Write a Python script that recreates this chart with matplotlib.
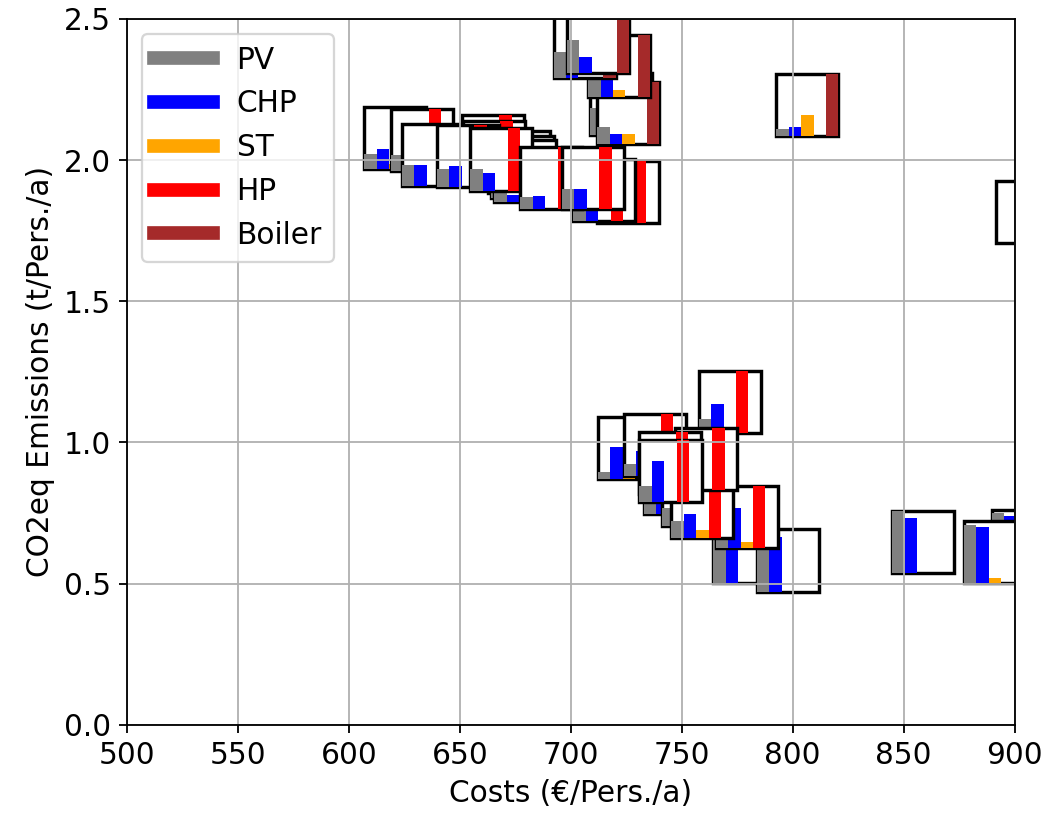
import matplotlib.pyplot as plt
from matplotlib.patches import Rectangle
from matplotlib.lines import Line2D

# pareto solutions: costs in €/Pers./a, emissions in t/Pers./a
costs = [708.8, 711.9, 707.8, 692.2, 698.3,
         606.9, 619.1, 623.9, 651.0, 651.5, 639.7, 662.8, 664.2, 665.5, 654.7,
         711.6, 701.1, 677.2, 696.0, 792.6, 891.4,
         712.1, 723.8, 732.8, 741.1, 764.2, 783.8, 765.3, 745.3, 757.6, 747.0,
         730.6, 730.9, 844.8, 889.6, 877.1]
emissions = [2.088, 2.056, 2.224, 2.289, 2.307,
             1.967, 1.962, 1.909, 1.939, 1.919, 1.905, 1.882, 1.865, 1.850, 1.892,
             1.776, 1.785, 1.827, 1.828, 2.085, 1.706,
             0.869, 0.881, 0.745, 0.703, 0.502, 0.472, 0.625, 0.662, 1.034, 0.833,
             0.818, 0.790, 0.537, 0.540, 0.502]

# installed capacities, relative to the largest one of each technology
pv = [0.43, 0.27, 0.27, 0.43, 0.54,
      0.25, 0.25, 0.33, 0.3, 0.3, 0.29, 0.15, 0.15, 0.15, 0.35,
      0.1, 0.17, 0.19, 0.31, 0.12, 0.0,
      0.12, 0.19, 0.3, 0.3, 0.9, 0.8, 0.3, 0.27, 0.22, 0.3,
      0.3, 0.26, 1.0, 0.95, 0.94]
chp = [0.3, 0.16, 0.27, 0.24, 0.27,
       0.33, 0.3, 0.34, 0.3, 0.3, 0.34, 0.12, 0.12, 0.12, 0.29,
       0.05, 0.15, 0.2, 0.31, 0.14, 0.0,
       0.52, 0.4, 0.3, 0.3, 0.9, 0.88, 0.65, 0.38, 0.46, 0.4,
       0.6, 0.65, 0.89, 0.9, 0.9]
st = [0.1, 0.16, 0.11, 0.0, 0.0,
      0.08, 0.1, 0.0, 0.0, 0.0, 0.0, 0.0, 0.0, 0.0, 0.0,
      0.05, 0.0, 0.0, 0.0, 0.34, 0.0,
      0.16, 0.0, 0.0, 0.0, 0.0, 0.0, 0.11, 0.12, 0.0, 0.0,
      0.0, 0.0, 0.0, 0.0, 0.08]
hp = [0.0, 0.0, 0.0, 0.0, 0.0,
      0.0, 1.0, 0.0, 1.0, 1.0, 1.0, 0.0, 0.0, 0.0, 1.0,
      1.0, 1.0, 1.0, 1.0, 0.0, 0.0,
      0.0, 1.0, 1.0, 0.0, 0.0, 0.0, 1.0, 1.0, 1.0, 1.0,
      1.0, 1.0, 0.0, 0.0, 0.0]
boiler = [1.0, 1.0, 1.0, 1.0, 1.0,
          0.0, 0.0, 0.0, 0.0, 0.0, 0.0, 0.0, 0.0, 0.0, 0.0,
          0.0, 0.0, 0.0, 0.0, 1.0, 1.0,
          0.0, 0.0, 0.0, 0.0, 0.0, 0.0, 0.0, 0.0, 0.0, 0.0,
          0.0, 0.0, 0.0, 0.0, 0.0]

techs = ["PV", "CHP", "ST", "HP", "Boiler"]
colors = ["grey", "blue", "orange", "red", "brown"]

box_w = 28.0
box_h = 0.22

plt.rcParams["font.size"] = 13

fig = plt.figure(figsize=(6.4, 5), dpi=164)
ax = fig.add_subplot(111)
fig.subplots_adjust(left=0.121, right=0.9667, top=0.977, bottom=0.116)

for i in range(len(costs)):
    x0 = costs[i]
    y0 = emissions[i]
    ax.add_patch(Rectangle((x0, y0), box_w, box_h, facecolor="white",
                           edgecolor="black", linewidth=1.5))
    caps = [pv[i], chp[i], st[i], hp[i], boiler[i]]
    slot = box_w / len(techs)
    xs = [x0 + k * slot for k in range(len(techs))]
    hs = [c * box_h for c in caps]
    ax.bar(xs, hs, width=slot, bottom=y0, align="edge", color=colors)

ax.set_xlim(500, 900)
ax.set_ylim(0, 2.5)
ax.set_xticks(range(500, 901, 50))
ax.set_yticks([0.0, 0.5, 1.0, 1.5, 2.0, 2.5])
ax.grid(True)
ax.set_xlabel("Costs (€/Pers./a)")
ax.set_ylabel("CO2eq Emissions (t/Pers./a)")

handles = [Line2D([0], [0], color=c, lw=6) for c in colors]
ax.legend(handles, techs, loc="upper left")

fig.savefig("out.png", dpi=164)
